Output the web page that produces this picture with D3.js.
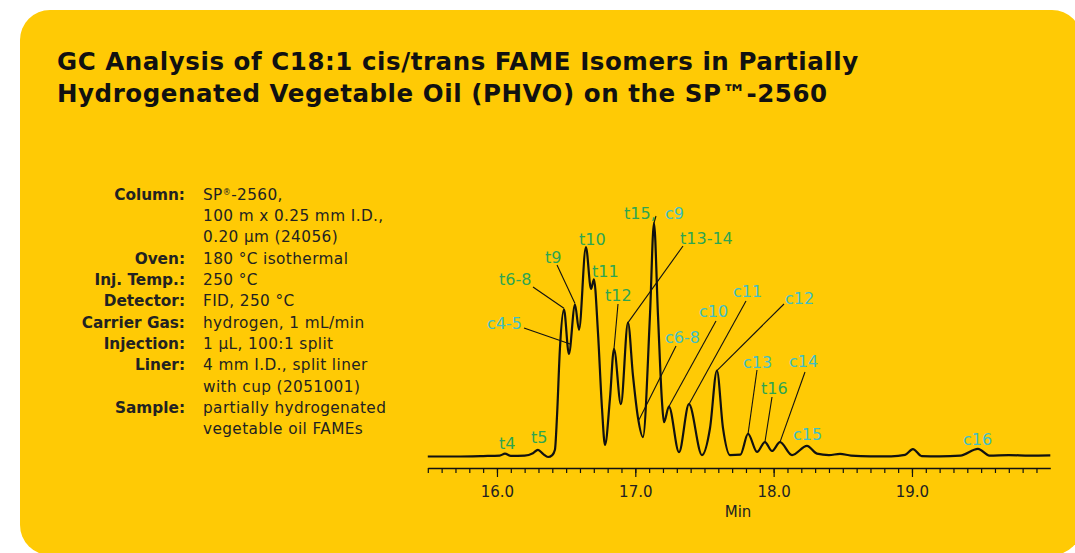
<!DOCTYPE html>
<html>
<head>
<meta charset="utf-8">
<script src="https://cdn.jsdelivr.net/npm/d3@7"></script>
<style>
  body { margin: 0; background: #fff; }
  svg { display: block; font-family: "DejaVu Sans", Verdana, sans-serif; }
</style>
</head>
<body>
<div class="gc-plot"></div>
<script>
// chromatogram trace: retention time (min) and detector signal (0-100)
const traceTime = [15.50, 15.70, 15.90, 16.02, 16.058, 16.10, 16.20, 16.26, 16.296, 16.335, 16.369,
  16.40, 16.419, 16.434, 16.455, 16.484, 16.520, 16.564, 16.593, 16.643, 16.680, 16.701, 16.730,
  16.759, 16.781, 16.817, 16.846, 16.896, 16.947, 16.983, 17.019, 17.055, 17.106, 17.135, 17.164,
  17.193, 17.207, 17.243, 17.316, 17.388, 17.482, 17.540, 17.590, 17.634, 17.684, 17.76, 17.815,
  17.880, 17.937, 17.988, 18.046, 18.133, 18.241, 18.313, 18.40, 18.48, 18.56, 18.70, 18.85,
  18.95, 19.007, 19.07, 19.20, 19.35, 19.477, 19.56, 19.70, 19.85, 20.0];
const traceSignal = [0.2, 0.2, 0.4, 0.6, 1.4, 0.5, 0.6, 1.6, 3.0, 1.2, 0.0,
  0.8, 3.0, 17.0, 45.0, 61.5, 43.0, 63.5, 53.0, 87.5, 70.0, 74.0, 52.0,
  20.5, 5.0, 24.5, 45.0, 22.0, 56.0, 34.0, 16.5, 8.3, 59.0, 97.5, 59.0,
  23.0, 14.5, 21.0, 2.0, 22.0, 0.8, 12.0, 36.0, 12.0, 0.8, 1.0, 9.6,
  2.1, 6.2, 2.5, 6.2, 0.8, 4.6, 1.4, 0.8, 1.3, 0.6, 0.3, 0.3,
  0.9, 3.3, 0.4, 0.3, 0.6, 3.4, 0.6, 0.8, 0.6, 0.7];

// peak identifications
const peakNames = ['t4', 't5', 'c4-5', 't6-8', 't9', 't10', 't11', 't12', 't13-14', 't15, c9',
  'c6-8', 'c10', 'c11', 'c12', 'c13', 't16', 'c14', 'c15', 'c16'];
const peakTimes = [16.058, 16.296, 16.534, 16.484, 16.564, 16.643, 16.701, 16.846, 16.947, 17.135,
  17.027, 17.243, 17.388, 17.590, 17.815, 17.937, 18.046, 18.241, 19.477];
const peakSignal = [1.4, 3.0, 47.0, 62.0, 64.0, 87.5, 74.0, 45.0, 56.0, 97.5,
  15.5, 21.0, 22.0, 36.0, 9.6, 6.2, 6.2, 4.6, 3.4];

const tickLabels = ['16.0', '17.0', '18.0', '19.0'];

const condLabels = ['Column:', '', '', 'Oven:', 'Inj. Temp.:', 'Detector:', 'Carrier Gas:',
  'Injection:', 'Liner:', '', 'Sample:', ''];
const condValues = ['SP®-2560,', '100 m x 0.25 mm I.D.,', '0.20 µm (24056)', '180 °C isothermal',
  '250 °C', 'FID, 250 °C', 'hydrogen, 1 mL/min', '1 µL, 100:1 split', '4 mm I.D., split liner',
  'with cup (2051001)', 'partially hydrogenated', 'vegetable oil FAMEs'];

const titleLines = ['GC Analysis of C18:1 cis/trans FAME Isomers in Partially',
  'Hydrogenated Vegetable Oil (PHVO) on the SP™-2560'];

// label placement (text anchor, leader start) in pixels
const labelLayout = {
  't4': {tx: 499, ty: 449},
  't5': {tx: 531, ty: 443},
  'c4-5': {tx: 487, ty: 329, lx: 524, ly: 328},
  't6-8': {tx: 499, ty: 285, lx: 533, ly: 287},
  't9': {tx: 545, ty: 263, lx: 557, ly: 265},
  't10': {tx: 579, ty: 245},
  't11': {tx: 592, ty: 277},
  't12': {tx: 605, ty: 301, lx: 618, ly: 304},
  't13-14': {tx: 680, ty: 244, lx: 683, ly: 246},
  't15, c9': {tx: 624, ty: 219, lx: 656, ly: 216},
  'c6-8': {tx: 665, ty: 343, lx: 676, ly: 346},
  'c10': {tx: 699, ty: 317, lx: 716, ly: 321},
  'c11': {tx: 733, ty: 297, lx: 746, ly: 301},
  'c12': {tx: 785, ty: 304, lx: 784, ly: 304},
  'c13': {tx: 743, ty: 368, lx: 757, ly: 370},
  't16': {tx: 761, ty: 394, lx: 772, ly: 397},
  'c14': {tx: 789, ty: 367, lx: 805, ly: 372},
  'c15': {tx: 793, ty: 440},
  'c16': {tx: 963, ty: 445}
};

const width = 1075;
const height = 553;
const transColor = '#2da552';
const cisColor = '#3fbfc4';

const svg = d3.select('.gc-plot')
  .append('svg')
  .attr('width', width)
  .attr('height', height);

svg.append('rect')
  .attr('x', 20).attr('y', 10)
  .attr('width', 1062).attr('height', 545)
  .attr('rx', 30)
  .attr('fill', '#ffca05');

svg.selectAll('text.title')
  .data(titleLines)
  .enter()
  .append('text')
  .attr('class', 'title')
  .attr('x', 57)
  .attr('y', (d, i) => 70 + i * 32)
  .attr('font-size', '24.5px')
  .attr('letter-spacing', '0.55px')
  .attr('font-weight', 'bold')
  .attr('fill', '#111')
  .text(d => d);

// run conditions block
const condTop = 199.5, condStep = 21.36;
svg.selectAll('text.cond-label')
  .data(condLabels)
  .enter()
  .append('text')
  .attr('class', 'cond-label')
  .attr('x', 185)
  .attr('y', (d, i) => condTop + i * condStep)
  .attr('text-anchor', 'end')
  .attr('font-size', '15.3px')
  .attr('font-weight', 'bold')
  .attr('fill', '#222')
  .text(d => d);

svg.selectAll('text.cond-value')
  .data(condValues)
  .enter()
  .append('text')
  .attr('class', 'cond-value')
  .attr('x', 203)
  .attr('y', (d, i) => condTop + i * condStep)
  .attr('font-size', '15.3px')
  .attr('letter-spacing', '0.4px')
  .attr('fill', '#222')
  .each(function(d) {
    const t = d3.select(this);
    if (d.includes('®')) {
      const parts = d.split('®');
      t.append('tspan').text(parts[0]);
      t.append('tspan').attr('font-size', '8px').attr('dy', -5).text('®');
      t.append('tspan').attr('dy', 5).text(parts[1]);
    } else {
      t.text(d);
    }
  });

// scales
const x = d3.scaleLinear().domain([15.5, 20.0]).range([427.8, 1050.3]);
const y = d3.scaleLinear().domain([0, 100]).range([457, 217]);

const axisY = 468;
const minorTicks = d3.range(155, 200).map(v => v / 10);
svg.append('g')
  .attr('transform', `translate(0,${axisY})`)
  .call(d3.axisBottom(x).tickValues(minorTicks).tickSize(5).tickSizeOuter(0).tickFormat(''))
  .call(g => g.selectAll('line').attr('stroke', '#111').attr('stroke-width', 1.2))
  .call(g => g.select('.domain').attr('stroke', '#111').attr('stroke-width', 1.6));

svg.append('g')
  .attr('transform', `translate(0,${axisY})`)
  .call(d3.axisBottom(x).tickValues(tickLabels.map(Number)).tickSize(9).tickPadding(9)
    .tickFormat((d, i) => tickLabels[i]))
  .call(g => g.select('.domain').remove())
  .call(g => g.selectAll('line').attr('stroke', '#111').attr('stroke-width', 1.2))
  .call(g => g.selectAll('text')
    .attr('font-size', '15px')
    .attr('font-family', '"DejaVu Sans", Verdana, sans-serif')
    .attr('fill', '#222'));

svg.append('text')
  .attr('x', 738)
  .attr('y', 517)
  .attr('text-anchor', 'middle')
  .attr('font-size', '15px')
  .attr('fill', '#222')
  .text('Min');

// trace
const trace = traceTime.map((t, i) => ({t: t, s: traceSignal[i]}));
const line = d3.line()
  .x(d => x(d.t))
  .y(d => y(d.s))
  .curve(d3.curveMonotoneX);

svg.append('path')
  .datum(trace)
  .attr('d', line)
  .attr('fill', 'none')
  .attr('stroke', '#111')
  .attr('stroke-width', 2.2)
  .attr('stroke-linejoin', 'round');

// peak labels and leader lines
const peaks = peakNames.map((n, i) => ({name: n, t: peakTimes[i], s: peakSignal[i]}));

svg.selectAll('line.leader')
  .data(peaks.filter(d => labelLayout[d.name].lx !== undefined))
  .enter()
  .append('line')
  .attr('class', 'leader')
  .attr('x1', d => labelLayout[d.name].lx)
  .attr('y1', d => labelLayout[d.name].ly)
  .attr('x2', d => x(d.t))
  .attr('y2', d => y(d.s))
  .attr('stroke', '#111')
  .attr('stroke-width', 1.1);

svg.selectAll('text.peak')
  .data(peaks)
  .enter()
  .append('text')
  .attr('class', 'peak')
  .attr('x', d => labelLayout[d.name].tx)
  .attr('y', d => labelLayout[d.name].ty)
  .attr('font-size', '16px')
  .each(function(d) {
    const t = d3.select(this);
    if (d.name === 't15, c9') {
      t.append('tspan').attr('fill', transColor).text('t15,');
      t.append('tspan').attr('x', 665).attr('fill', cisColor).text('c9');
    } else {
      t.attr('fill', d.name[0] === 't' ? transColor : cisColor).text(d.name);
    }
  });
</script>
</body>
</html>
